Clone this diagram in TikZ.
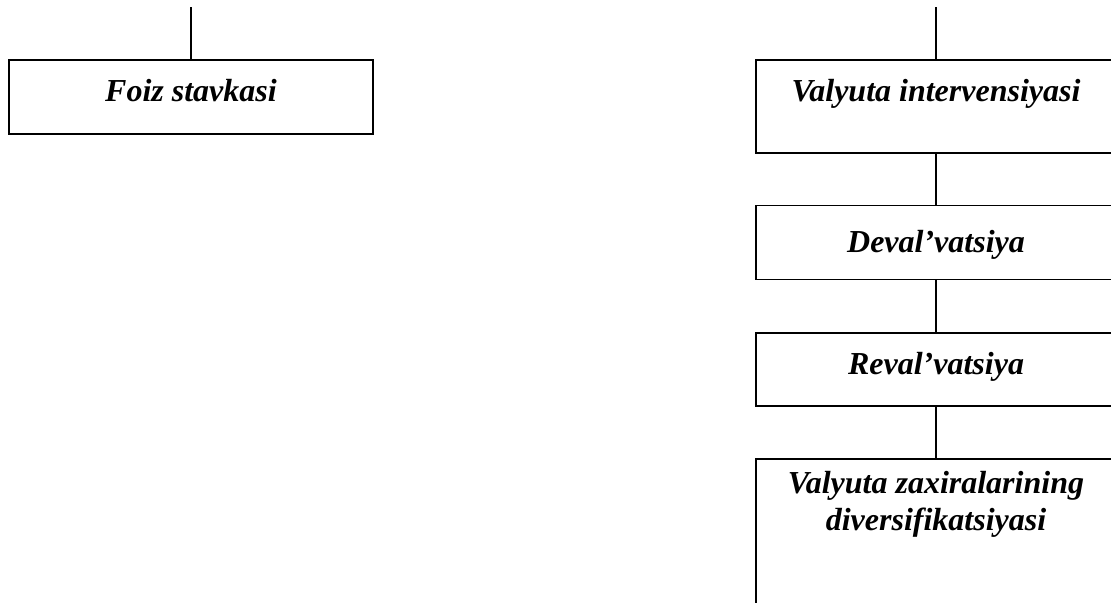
\documentclass[tikz,border=0pt]{standalone}
\usepackage{fontspec}
\setmainfont{Liberation Serif}
\usetikzlibrary{positioning}
\tikzset{
  box/.style={draw,line width=0.8pt,rectangle,minimum width=#1,inner sep=0pt},
  lbl/.style={font=\fontsize{16}{18.5}\selectfont\bfseries\itshape,align=center,inner sep=0pt,anchor=base},
  link/.style={line width=0.8pt}
}
\begin{document}
\begin{tikzpicture}[x=0.5pt,y=-0.5pt]
\clip (0,0) rectangle (1111,602);
\useasboundingbox (0,0) rectangle (1111,602);

% left column
\node[box=182pt,minimum height=37pt] (foiz) at (191,97) {};
\node[lbl] (foizt) at ([yshift=-21pt]foiz.north) {Foiz stavkasi};
\coordinate (ltop) at (191,7);
\draw[link] (ltop) -- (foiz.north);

% right column
\node[box=180pt,minimum height=46.5pt] (interv) at (936,106.5) {};
\node[box=180pt,minimum height=37pt,below=25.5pt of interv] (deval) {};
\node[box=180pt,minimum height=36.5pt,below=26pt of deval] (reval) {};
\node[box=180pt,minimum height=90pt,below=25.5pt of reval] (divers) {};

\node[lbl] (intervt) at ([yshift=-21pt]interv.north) {Valyuta intervensiyasi};
\node[lbl] (devalt) at ([yshift=-24pt]deval.north) {Deval’vatsiya};
\node[lbl] (revalt) at ([yshift=-21pt]reval.north) {Reval’vatsiya};
% base anchor sits on the last line here
\node[lbl] (diverst) at ([yshift=-36pt]divers.north) {Valyuta zaxiralarining\\diversifikatsiyasi};

\coordinate (rtop) at (936,7);
\draw[link] (rtop) -- (interv.north);
\draw[link] (interv) -- (deval);
\draw[link] (deval) -- (reval);
\draw[link] (reval) -- (divers);
\end{tikzpicture}
\end{document}
